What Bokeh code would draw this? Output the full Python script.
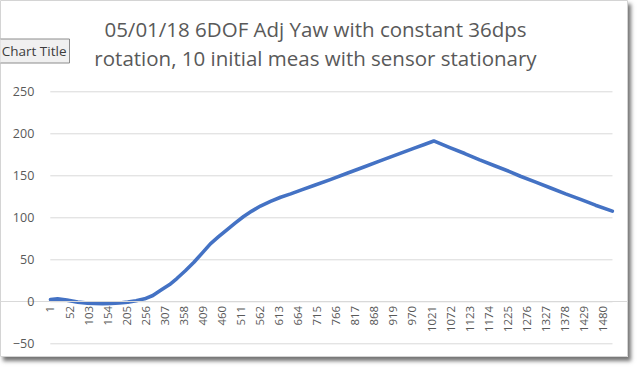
import math
from bokeh.plotting import figure
from bokeh.models import Range1d, FixedTicker, Label
from bokeh.embed import file_html
from bokeh.resources import INLINE

# ---- data ----
title_line1 = "05/01/18 6DOF Adj Yaw with constant 36dps"
title_line2 = "rotation, 10 initial meas with sensor stationary"
tooltip_text = "Chart Title"

sample_index = [1, 20, 45, 74, 100, 119, 140, 163, 185, 208, 230, 253, 275, 297,
                320, 340, 362, 385, 407, 429, 451, 474, 496, 518, 540, 563, 590,
                617, 644, 675, 706, 750, 795, 840, 885, 930, 975, 1000, 1027,
                1070, 1110, 1150, 1190, 1230, 1259, 1300, 1340, 1380, 1420, 1460, 1505]
yaw_deg = [2.7, 3.5, 2.0, -0.4, -1.6, -2.0, -2.2, -2.0, -1.4, -0.4, 1.2, 3.5, 7.5, 14.0,
           20.5, 28.0, 37.0, 47.0, 58.0, 69.0, 77.5, 86.0, 94.0, 101.5, 108.0, 114.0, 119.5,
           124.5, 128.5, 133.5, 138.5, 145.5, 153.0, 160.5, 168.0, 175.5, 183.0, 187.0, 191.5,
           183.5, 176.5, 169.0, 162.0, 155.0, 149.5, 142.5, 135.5, 128.5, 122.0, 115.0, 108.0]

category_count = 1505
x_tick_labels = [1, 52, 103, 154, 205, 256, 307, 358, 409, 460, 511, 562, 613, 664, 715,
                 766, 817, 868, 919, 970, 1021, 1072, 1123, 1174, 1225, 1276, 1327, 1378,
                 1429, 1480]
y_ticks = [-50, 0, 50, 100, 150, 200, 250]

# ---- layout (pixels of the chart card) ----
W, H = 628, 357
PA_LEFT, PA_RIGHT, PA_TOP, PA_BOTTOM = 49.8, 612.0, 91.3, 343.3
cat_lo, cat_hi = 0.5, category_count + 0.5
y_lo, y_hi = y_ticks[0], y_ticks[-1]
xpp = (cat_hi - cat_lo) / (PA_RIGHT - PA_LEFT)
ypp = (y_hi - y_lo) / (PA_BOTTOM - PA_TOP)

def px_x(px):
    return cat_lo + (px - PA_LEFT) * xpp

def px_y(py):
    return y_lo + (PA_BOTTOM - py) * ypp

p = figure(width=W, height=H,
           x_range=Range1d(px_x(0), px_x(W)),
           y_range=Range1d(px_y(H), px_y(0)),
           output_backend="svg", toolbar_location=None,
           min_border=0, min_border_left=0, min_border_right=0,
           min_border_top=0, min_border_bottom=0,
           background_fill_color="white", border_fill_color="white",
           outline_line_color="#D4D4D4", outline_line_width=1,
           styles={"box-shadow": "3px 4px 4px rgba(0,0,0,0.55)"})

p.xgrid.visible = False
p.ygrid.visible = False

# horizontal gridlines limited to the plot area
p.segment(x0=[cat_lo] * len(y_ticks), x1=[cat_hi] * len(y_ticks),
          y0=y_ticks, y1=y_ticks, line_color="#D9D9D9", line_width=1)

# y axis (value axis) at the left edge of the plot area
p.yaxis.fixed_location = cat_lo
p.yaxis.ticker = FixedTicker(ticks=y_ticks)
p.yaxis.axis_line_color = None
p.yaxis.major_tick_line_color = None
p.yaxis.minor_tick_line_color = None
p.yaxis.major_tick_out = 0
p.yaxis.minor_tick_out = 0
p.yaxis.major_label_standoff = 16
p.yaxis.major_label_text_font = "Open Sans"
p.yaxis.major_label_text_font_size = "12.5px"
p.yaxis.major_label_text_color = "#595959"

# x (category) axis crossing at 0
p.xaxis.fixed_location = 0
p.xaxis.ticker = FixedTicker(ticks=x_tick_labels)
p.xaxis.axis_line_color = "#D9D9D9"
p.xaxis.major_tick_line_color = None
p.xaxis.minor_tick_line_color = None
p.xaxis.major_tick_out = 0
p.xaxis.minor_tick_out = 0
p.xaxis.major_label_orientation = math.pi / 2
p.xaxis.major_label_standoff = 4
p.xaxis.major_label_text_font = "Open Sans"
p.xaxis.major_label_text_font_size = "11.5px"
p.xaxis.major_label_text_color = "#595959"

p.line(sample_index, yaw_deg, line_color="#4472C4", line_width=3.6,
       line_join="round", line_cap="round")

# two-line chart title
for txt, mid_px in ((title_line1, 28.5), (title_line2, 57.5)):
    p.add_layout(Label(x=px_x(315), y=px_y(mid_px), text=txt, text_align="center",
                       text_baseline="middle", text_font="Open Sans",
                       text_font_size="20.5px", text_color="#595959"))

# "Chart Title" tooltip box
p.add_layout(Label(x=px_x(69), y=px_y(50.5), text=tooltip_text, text_align="right",
                   text_baseline="middle", text_font="Open Sans",
                   text_font_size="13.5px", text_color="#3C3C3C",
                   background_fill_color="#F0F0F0", border_line_color="#8C8C8C",
                   padding=3))

open("out.html", "w").write(file_html(p, INLINE))
